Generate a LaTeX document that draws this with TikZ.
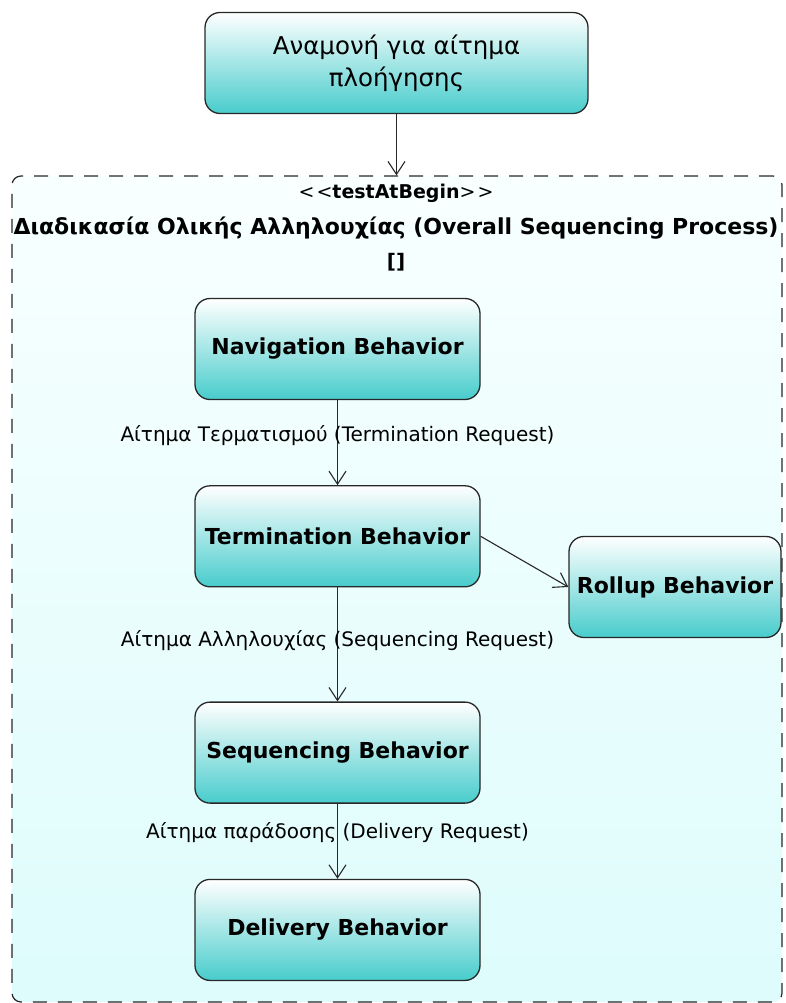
\documentclass[tikz,border=0pt]{standalone}
\usepackage{fontspec}
\setmainfont{DejaVu Sans}
\usetikzlibrary{arrows.meta,positioning}

\definecolor{tealfill}{RGB}{72,204,204}
\definecolor{regiontop}{RGB}{248,255,255}
\definecolor{regionbot}{RGB}{222,252,252}
\definecolor{linegray}{RGB}{40,40,40}

\begin{document}
\begin{tikzpicture}[x=1pt, y=-1pt,
  behav/.style={draw=linegray, line width=1.3pt, rounded corners=15pt,
    top color=white, bottom color=tealfill,
    minimum width=285pt, minimum height=101pt,
    font=\fontsize{22}{26}\selectfont\bfseries},
  flow/.style={-{Straight Barb[length=13pt,width=17pt]}, line width=1.1pt, draw=linegray},
  req/.style={font=\fontsize{20}{24}\selectfont, inner sep=0pt},
  node distance=85pt
]
\useasboundingbox (0,0) rectangle (786,1003);

% dashed process region
\node[draw=linegray, line width=1.2pt, dash pattern=on 14pt off 11pt,
  rounded corners=9pt, top color=regiontop, bottom color=regionbot,
  minimum width=770pt, minimum height=826pt] (region) at (397,589) {};

% waiting state
\node[behav, minimum width=383pt, align=center, font=\fontsize{24.5}{32}\selectfont]
  (wait) at (396.5,63) {Αναμονή για αίτημα\\πλοήγησης};

% region title
\node[font=\fontsize{19}{22}\selectfont] (stereo) at (396,193)
  {{<}\kern2pt{<}\textbf{testAtBegin}{>}\kern2pt{>}};
\node[font=\fontsize{22}{26}\selectfont\bfseries] (title) at (396,228)
  {Διαδικασία Ολικής Αλληλουχίας (Overall Sequencing Process)};
\node[font=\fontsize{20}{24}\selectfont\bfseries] (guard) at (396,262) {[]};

% behaviours
\node[behav] (nav) at (337.5,349) {Navigation Behavior};
\node[behav, below=85pt of nav] (term) {Termination Behavior};
\node[behav, below=114pt of term] (seq) {Sequencing Behavior};
\node[behav, below=75pt of seq] (deliv) {Delivery Behavior};
\node[behav, minimum width=212pt] (rollup) at (675,587) {Rollup Behavior};

% connectors
\draw[flow] (wait.south) -- (wait.south |- region.north);
\draw[flow] (nav) -- node[req, pos=0.42] {Αίτημα Τερματισμού (Termination Request)} (term);
\draw[flow] (term) -- node[req, pos=0.47] {Αίτημα Αλληλουχίας (Sequencing Request)} (seq);
\draw[flow] (seq) -- node[req, pos=0.39] {Αίτημα παράδοσης (Delivery Request)} (deliv);
\draw[flow] (term.east) -- (rollup.west);

\end{tikzpicture}
\end{document}
